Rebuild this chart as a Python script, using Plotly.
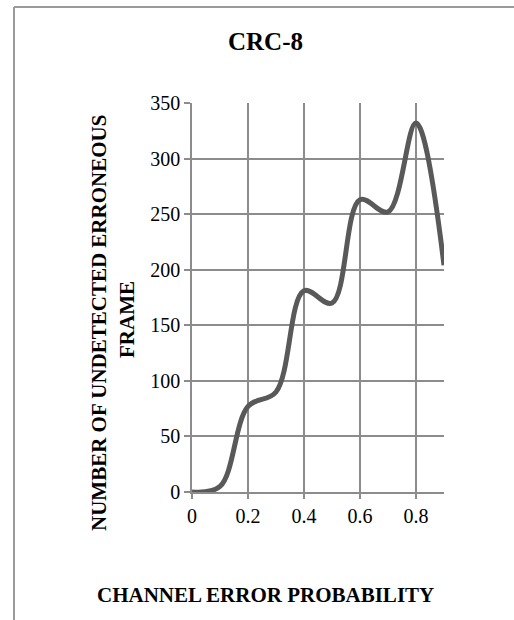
import plotly.graph_objects as go

# CRC-8: undetected erroneous frames vs. channel error probability
error_prob = [0.0, 0.1, 0.2, 0.3, 0.4, 0.5, 0.6, 0.7, 0.8, 0.9]
undetected_frames = [0, 5, 77, 90, 181, 170, 263, 252, 332, 204]

x_ticks = [0, 0.2, 0.4, 0.6, 0.8]
x_tick_text = ["0", "0.2", "0.4", "0.6", "0.8"]
y_ticks = [0, 50, 100, 150, 200, 250, 300, 350]

chart_title = "CRC-8"
x_title = "CHANNEL ERROR PROBABILITY"
y_title_lines = ["NUMBER OF UNDETECTED ERRONEOUS", "FRAME"]

W, H = 514, 620
L, R, T, B = 192, 70, 103, 128
PW, PH = W - L - R, H - T - B

FONT = "Liberation Serif, Times New Roman, serif"
GRID = "#8c8c8c"


def px_x(px):
    return (px - L) / PW


def px_y(py):
    return (H - B - py) / PH


fig = go.Figure()
fig.add_trace(go.Scatter(
    x=error_prob,
    y=undetected_frames,
    mode="lines",
    line=dict(color="#595959", width=5, shape="spline", smoothing=1.0),
    cliponaxis=False,
    hoverinfo="x+y",
    showlegend=False,
))

fig.update_layout(
    width=W,
    height=H,
    margin=dict(l=L, r=R, t=T, b=B, pad=0),
    paper_bgcolor="white",
    plot_bgcolor="white",
    font=dict(family=FONT, size=20, color="black"),
    xaxis=dict(
        range=[0, 0.9],
        tickvals=x_ticks,
        ticktext=x_tick_text,
        showgrid=True,
        gridcolor=GRID,
        gridwidth=1.5,
        showline=True,
        linecolor=GRID,
        linewidth=1.5,
        ticks="outside",
        ticklen=5,
        tickwidth=1.5,
        tickcolor=GRID,
        zeroline=False,
        tickfont=dict(family=FONT, size=20, color="black"),
    ),
    yaxis=dict(
        range=[0, 350],
        tickvals=y_ticks,
        showgrid=True,
        gridcolor=GRID,
        gridwidth=1.5,
        showline=True,
        linecolor=GRID,
        linewidth=1.5,
        ticks="outside",
        ticklen=6,
        tickwidth=1.5,
        tickcolor=GRID,
        zeroline=False,
        tickfont=dict(family=FONT, size=20, color="black"),
    ),
    annotations=[
        dict(text="<b>%s</b>" % chart_title, x=px_x(265.5), y=px_y(42),
             xref="paper", yref="paper", showarrow=False,
             xanchor="center", yanchor="middle",
             font=dict(family=FONT, size=25, color="black")),
        dict(text="<b>%s</b>" % x_title, x=px_x(265), y=px_y(595),
             xref="paper", yref="paper", showarrow=False,
             xanchor="center", yanchor="middle",
             font=dict(family=FONT, size=21, color="black")),
        dict(text="<b>%s</b>" % y_title_lines[0], x=px_x(98.5), y=px_y(323.5),
             xref="paper", yref="paper", showarrow=False, textangle=-90,
             xanchor="center", yanchor="middle",
             font=dict(family=FONT, size=21, color="black")),
        dict(text="<b>%s</b>" % y_title_lines[1], x=px_x(127), y=px_y(320),
             xref="paper", yref="paper", showarrow=False, textangle=-90,
             xanchor="center", yanchor="middle",
             font=dict(family=FONT, size=21, color="black")),
    ],
    shapes=[
        # chart frame: top edge and left edge
        dict(type="line", xref="paper", yref="paper",
             x0=px_x(14), x1=px_x(W + 2), y0=px_y(7), y1=px_y(7),
             line=dict(color="#9a9a9a", width=2)),
        dict(type="line", xref="paper", yref="paper",
             x0=px_x(14), x1=px_x(14), y0=px_y(7), y1=px_y(H + 2),
             line=dict(color="#9a9a9a", width=2)),
    ],
)

fig.write_html("out.html")
